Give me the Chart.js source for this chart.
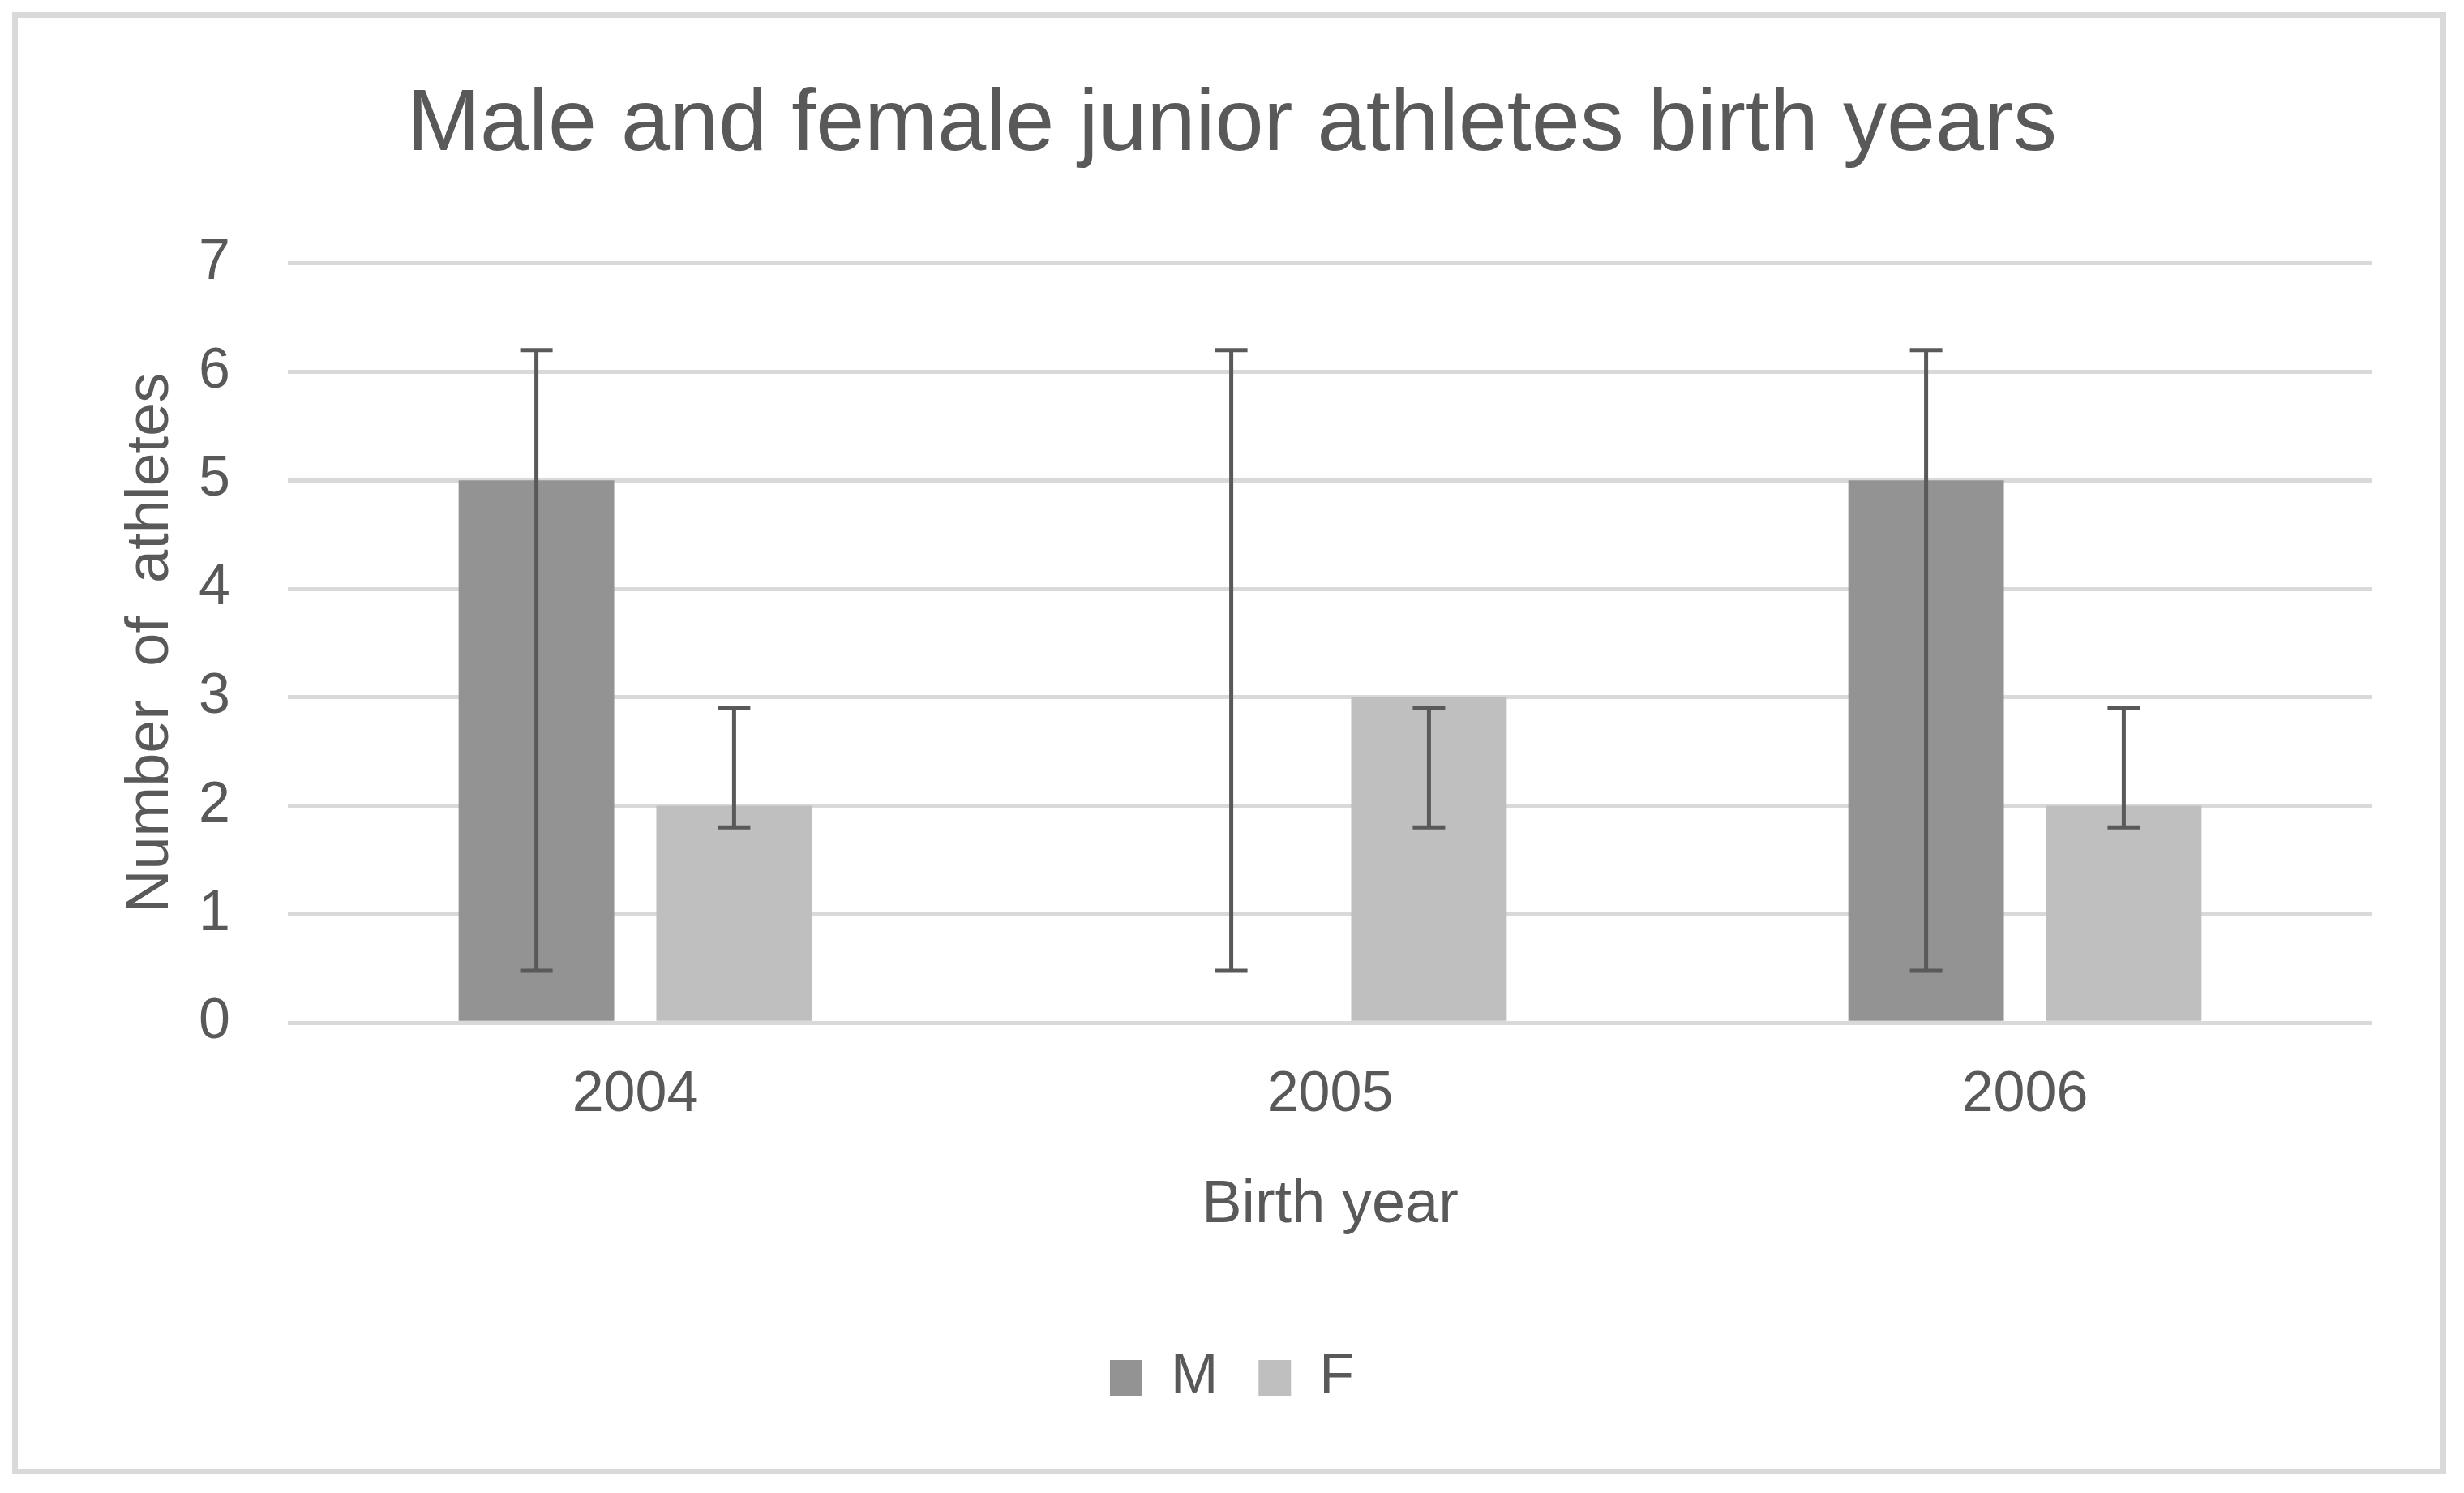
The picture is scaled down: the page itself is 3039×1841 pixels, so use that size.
<!DOCTYPE html>
<html>
<head>
<meta charset="utf-8">
<script src="https://cdn.jsdelivr.net/npm/chart.js@4.4.1/dist/chart.umd.min.js"></script>
<style>
  html, body { margin: 0; padding: 0; background: #fff; }
  canvas { display: block; }
</style>
</head>
<body>
<canvas id="chart" width="3039" height="1841"></canvas>
<script>
const textGrey = "#595959";
const gridGrey = "#d9d9d9";
const maleGrey = "#939393";
const femaleGrey = "#bfbfbf";

const birthYears = ["2004", "2005", "2006"];
const maleCounts = [5, 0, 5];
const femaleCounts = [2, 3, 2];
// error bar ends (absolute values)
const maleErrLow = [0.48, 0.48, 0.48];
const maleErrHigh = [6.2, 6.2, 6.2];
const femaleErrLow = [1.8, 1.8, 1.8];
const femaleErrHigh = [2.9, 2.9, 2.9];
const yTicks = [0, 1, 2, 3, 4, 5, 6, 7];

Chart.defaults.font.family = "'Liberation Sans', Arial, sans-serif";
Chart.defaults.color = textGrey;

const frame = {
  id: "frame",
  beforeDraw(chart) {
    const ctx = chart.ctx;
    ctx.save();
    ctx.fillStyle = "#ffffff";
    ctx.fillRect(0, 0, chart.width, chart.height);
    ctx.strokeStyle = gridGrey;
    ctx.lineWidth = 7;
    ctx.strokeRect(18.5, 18.5, 2995, 1796);
    ctx.restore();
  },
};

const errorBars = {
  id: "errorBars",
  afterDatasetsDraw(chart) {
    const ctx = chart.ctx;
    const y = chart.scales.y;
    const ends = [
      [maleErrLow, maleErrHigh],
      [femaleErrLow, femaleErrHigh],
    ];
    ctx.save();
    ctx.strokeStyle = textGrey;
    ctx.lineWidth = 5;
    ends.forEach(([lo, hi], di) => {
      chart.getDatasetMeta(di).data.forEach((bar, i) => {
        const x = bar.x;
        const y0 = y.getPixelForValue(lo[i]);
        const y1 = y.getPixelForValue(hi[i]);
        ctx.beginPath();
        ctx.moveTo(x, y0);
        ctx.lineTo(x, y1);
        ctx.moveTo(x - 20, y0);
        ctx.lineTo(x + 20, y0);
        ctx.moveTo(x - 20, y1);
        ctx.lineTo(x + 20, y1);
        ctx.stroke();
      });
    });
    ctx.restore();
  },
};

new Chart(document.getElementById("chart").getContext("2d"), {
  type: "bar",
  data: {
    labels: birthYears,
    datasets: [
      { label: "M", data: maleCounts, backgroundColor: maleGrey },
      { label: "F", data: femaleCounts, backgroundColor: femaleGrey },
    ],
  },
  options: {
    responsive: false,
    animation: false,
    devicePixelRatio: 1,
    categoryPercentage: 0.569,
    barPercentage: 0.787,
    layout: {
      padding: { left: 113, right: 113, top: 15, bottom: 97 },
    },
    scales: {
      x: {
        grid: { display: false },
        border: { display: false },
        ticks: { font: { size: 70 }, padding: 40, color: textGrey },
        title: {
          display: true,
          text: "Birth year",
          font: { size: 74 },
          color: textGrey,
          padding: { top: 9, bottom: 83 },
        },
      },
      y: {
        min: 0,
        max: 7,
        afterBuildTicks(scale) {
          scale.ticks = yTicks.map((v) => ({ value: v }));
        },
        afterFit(scale) {
          scale.width = 242;
        },
        grid: { color: gridGrey, lineWidth: 5, drawTicks: false },
        border: { display: false },
        ticks: { font: { size: 70 }, padding: 71, color: textGrey },
        title: {
          display: true,
          text: "Number  of  athletes",
          font: { size: 74 },
          color: textGrey,
          padding: { top: 29, bottom: 0 },
        },
      },
    },
    plugins: {
      title: {
        display: true,
        text: "Male and female junior athletes birth years",
        font: { size: 108, weight: "normal" },
        color: textGrey,
        padding: { top: 75, bottom: 105 },
      },
      legend: {
        position: "bottom",
        labels: {
          boxWidth: 40,
          boxHeight: 44,
          padding: 50,
          font: { size: 70 },
          color: textGrey,
        },
      },
      tooltip: { enabled: false },
    },
  },
  plugins: [frame, errorBars],
});
</script>
</body>
</html>
